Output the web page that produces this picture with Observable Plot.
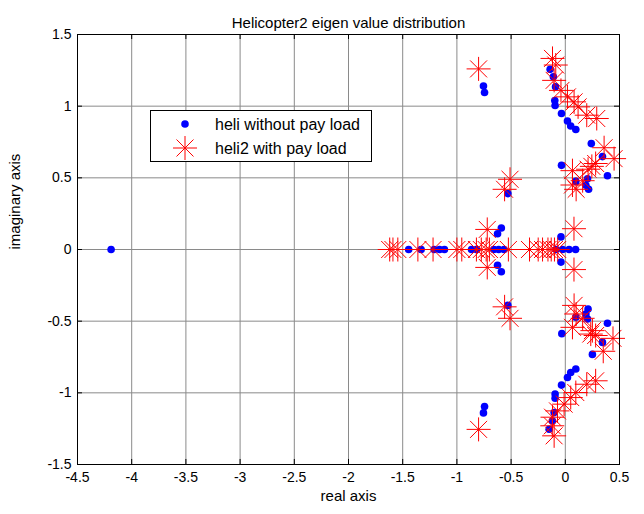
<!DOCTYPE html>
<html><head><meta charset="utf-8">
<script src="https://cdn.jsdelivr.net/npm/d3@7"></script>
<script src="https://cdn.jsdelivr.net/npm/@observablehq/plot@0.6"></script>
<style>
html,body{margin:0;padding:0;background:#fff;}
#wrap{position:relative;width:644px;height:514px;}
#legend{position:absolute;left:150px;top:110px;}
</style></head><body><div id="wrap"></div>
<script>
const titleText = "Helicopter2 eigen value distribution";
const xLabel = "real axis";
const yLabel = "imaginary axis";
const seriesNames = ["heli without pay load", "heli2 with pay load"];
const xTicks = [-4.5,-4,-3.5,-3,-2.5,-2,-1.5,-1,-0.5,0,0.5];
const yTicks = [-1.5,-1,-0.5,0,0.5,1,1.5];

// heli without pay load (blue dots)
const heliRe = [-4.19,-0.755,-0.745,-0.745,-0.755,
  -1.445,-1.33,-1.21,-1.16,-1.115,-0.865,-0.82,-0.66,-0.615,-0.565,
  -0.59,-0.625,-0.625,-0.59,-0.53,-0.53,
  -0.085,-0.025,0.035,0.095,-0.04,-0.04,
  -0.14,-0.11,-0.09,-0.097,-0.094,-0.035,0.02,0.05,0.097,0.24,0.343,-0.035,0.389,0.097,0.205,0.19,0.215,
  -0.149,-0.118,-0.103,-0.094,-0.094,-0.035,0.02,0.05,0.097,0.25,0.343,-0.032,0.389,0.097,0.19,0.205,0.21];
const heliIm = [0,1.14,1.095,-1.095,-1.14,
  0,0,0,0,0,0,0,0,0,0,
  0.15,0.11,-0.11,-0.155,0.39,-0.39,
  0,0,0,0,0.088,-0.088,
  1.257,1.205,1.135,1.04,1.005,0.949,0.897,0.862,0.837,0.739,0.648,0.587,0.515,0.475,0.494,0.448,0.42,
  -1.254,-1.196,-1.138,-1.037,-1.009,-0.946,-0.893,-0.858,-0.834,-0.732,-0.648,-0.587,-0.515,-0.473,-0.45,-0.485,-0.415];

// heli2 with pay load (red asterisks)
const heli2Re = [-0.80,-0.80,
  -1.62,-1.59,-1.545,-1.36,-1.22,-1.0,-0.955,-0.82,-0.775,-0.73,-0.70,-0.525,-0.33,-0.25,-0.21,-0.16,-0.13,-0.10,-0.07,
  -0.72,-0.72,-0.56,-0.51,-0.56,-0.51,0.08,0.08,
  -0.118,-0.088,-0.103,-0.04,0.02,0.081,0.118,0.198,0.29,0.358,0.45,0.28,0.245,0.21,0.066,0.066,0.10,0.16,
  -0.103,-0.12,-0.118,-0.072,-0.011,0.05,0.097,0.198,0.28,0.35,0.44,0.28,0.25,0.235,0.066,0.081,0.16,0.10];
const heli2Im = [1.26,-1.255,
  0,0,0,0,0,0,0,0,0,0,0,0,0,0,0,0,0,0,0,
  0.14,-0.125,0.42,0.49,-0.40,-0.48,0.145,-0.14,
  1.333,1.287,1.18,1.11,1.065,1.03,0.995,0.937,0.914,0.71,0.634,0.60,0.58,0.56,0.55,0.45,0.42,0.48,
  -1.30,-1.23,-1.17,-1.126,-1.079,-1.033,-0.998,-0.94,-0.916,-0.71,-0.62,-0.60,-0.566,-0.59,-0.543,-0.39,-0.48,-0.45];

const heli = heliRe.map((re, i) => ({re, im: heliIm[i]}));
const heli2 = heli2Re.map((re, i) => ({re, im: heli2Im[i]}));

// MATLAB-style '*' marker: plus and times combined
const asterisk8 = {
  draw(context, size) {
    const r = Math.sqrt(size / Math.PI);
    const d = r * Math.SQRT1_2;
    context.moveTo(-r, 0); context.lineTo(r, 0);
    context.moveTo(0, -r); context.lineTo(0, r);
    context.moveTo(-d, -d); context.lineTo(d, d);
    context.moveTo(-d, d); context.lineTo(d, -d);
  }
};

const xMin = xTicks[0], xMax = xTicks[xTicks.length - 1];
const yMin = yTicks[0], yMax = yTicks[yTicks.length - 1];
const tkY = 0.035, tkX = 0.046;
const font = "'Liberation Sans', Arial, Helvetica, sans-serif";

const plot = Plot.plot({
  width: 644, height: 514,
  marginLeft: 77, marginRight: 25, marginTop: 34, marginBottom: 50,
  style: {fontFamily: font, fontSize: "14px", background: "white", color: "black"},
  x: {domain: [xMin, xMax], label: null},
  y: {domain: [yMin, yMax], label: null},
  marks: [
    Plot.gridX(xTicks, {stroke: "#8a8a8a", strokeOpacity: 1}),
    Plot.gridY(yTicks, {stroke: "#8a8a8a", strokeOpacity: 1}),
    Plot.ruleX(xTicks, {x: d => d, y1: yMin, y2: yMin + tkY, stroke: "black"}),
    Plot.ruleX(xTicks, {x: d => d, y1: yMax, y2: yMax - tkY, stroke: "black"}),
    Plot.ruleY(yTicks, {y: d => d, x1: xMin, x2: xMin + tkX, stroke: "black"}),
    Plot.ruleY(yTicks, {y: d => d, x1: xMax, x2: xMax - tkX, stroke: "black"}),
    Plot.dot(heli, {x: "re", y: "im", r: 3.8, fill: "#0000ff", stroke: "none"}),
    Plot.dot(heli2, {x: "re", y: "im", symbol: asterisk8, r: 12, fill: "none", stroke: "#ff0000", strokeWidth: 1}),
    Plot.frame({stroke: "black"}),
    Plot.axisX(xTicks, {tickSize: 0, tickPadding: 8, tickFormat: d => String(d), label: null, fontSize: 14}),
    Plot.axisY(yTicks, {tickSize: 0, tickPadding: 6, tickFormat: d => String(d), label: null, fontSize: 14}),
    Plot.text([titleText], {text: d => d, frameAnchor: "top", dy: -17, fontSize: 15}),
    Plot.text([xLabel], {text: d => d, frameAnchor: "bottom", dy: 36, fontSize: 15}),
    Plot.text([yLabel], {text: d => d, frameAnchor: "left", dx: -62, rotate: -90, fontSize: 15})
  ]
});
const wrap = document.getElementById("wrap");
wrap.appendChild(plot);

// Legend box
const lw = 222, lh = 52;
const leg = d3.create("svg").attr("id", "legend").attr("width", lw).attr("height", lh)
  .style("font-family", font);
leg.append("rect").attr("x", 0.5).attr("y", 0.5).attr("width", lw - 1).attr("height", lh - 1)
  .attr("fill", "white").attr("stroke", "black");
const items = [
  {name: seriesNames[0], kind: "dot"},
  {name: seriesNames[1], kind: "star"}
];
items.forEach((it, i) => {
  const cy = 14 + i * 24;
  if (it.kind === "dot") {
    leg.append("circle").attr("cx", 35).attr("cy", cy).attr("r", 3.8).attr("fill", "#0000ff");
  } else {
    leg.append("path").attr("transform", `translate(35,${cy})`)
      .attr("d", d3.symbol(asterisk8, 12 * 12 * Math.PI)())
      .attr("fill", "none").attr("stroke", "#ff0000");
  }
  leg.append("text").attr("x", 65).attr("y", cy).attr("dy", "0.35em")
    .attr("font-size", 16).text(it.name);
});
wrap.appendChild(leg.node());
</script>
</body></html>
